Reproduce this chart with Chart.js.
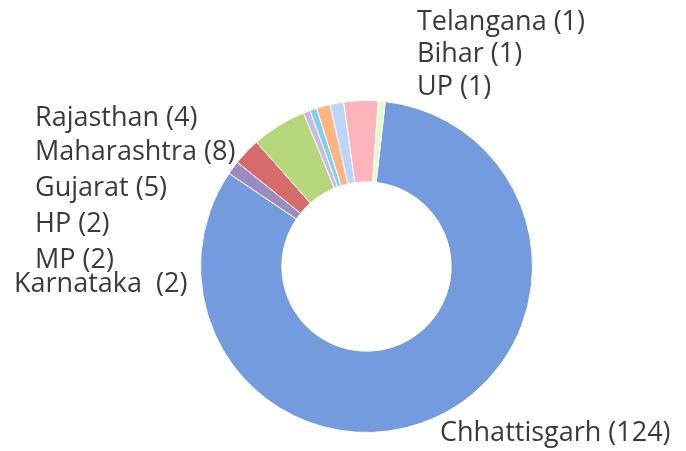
<!DOCTYPE html>
<html>
<head>
<meta charset="utf-8">
<script src="https://cdn.jsdelivr.net/npm/chart.js@4.4.1/dist/chart.umd.min.js"></script>
<style>
  html, body { margin: 0; padding: 0; background: #fff; }
  #wrap { position: relative; width: 686px; height: 451px; }
</style>
</head>
<body>
<div id="wrap"><canvas id="chart" width="686" height="451"></canvas></div>
<script>
// states, in the order the slices run clockwise from the top
const states = ["Chhattisgarh", "Karnataka ", "Rajasthan", "Maharashtra", "UP", "Bihar", "MP", "HP", "Gujarat", "Telangana"];
const counts = [124, 2, 4, 8, 1, 1, 2, 2, 5, 1];
const sliceColors = ["#739bdd", "#9c8ac2", "#d66b6b", "#b6d67c", "#c9b9e6", "#83cdee", "#fdb483", "#bdd5fa", "#feb4bb", "#e2fbc9"];

// where each outside label sits (left x, baseline y), same order as states
const labelSpots = [
  [440, 441], [14, 292], [35, 126], [35, 160], [417, 95],
  [417, 62], [35, 268], [35, 232], [35, 196], [417, 30]
];

// draws the "Name (n)" texts beside the ring
const outsideLabels = {
  id: "outsideLabels",
  afterDraw(chart) {
    const ctx = chart.ctx;
    const ds = chart.data.datasets[0];
    ctx.save();
    ctx.font = "27px 'Open Sans'";
    ctx.fillStyle = "#3a3a3a";
    ctx.textBaseline = "alphabetic";
    ctx.textAlign = "left";
    chart.data.labels.forEach((name, i) => {
      const [x, y] = labelSpots[i];
      ctx.fillText(`${name} (${ds.data[i]})`, x, y);
    });
    ctx.restore();
  }
};

new Chart(document.getElementById("chart"), {
  type: "doughnut",
  data: {
    labels: states,
    datasets: [{
      data: counts,
      backgroundColor: sliceColors,
      borderColor: "#ffffff",
      borderWidth: 1,
      hoverBorderWidth: 1
    }]
  },
  options: {
    responsive: false,
    animation: false,
    devicePixelRatio: 1,
    cutout: "51%",
    rotation: 6.5,
    layout: { padding: { left: 200, right: 153, top: 100, bottom: 18 } },
    plugins: {
      legend: { display: false },
      tooltip: { enabled: false }
    }
  },
  plugins: [outsideLabels]
});
</script>
</body>
</html>
